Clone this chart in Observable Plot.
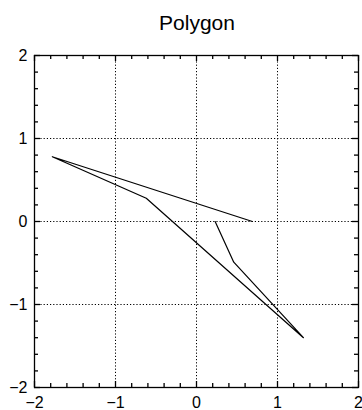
<!DOCTYPE html>
<html>
<head>
<meta charset="utf-8">
<script src="https://cdn.jsdelivr.net/npm/d3@7"></script>
<script src="https://cdn.jsdelivr.net/npm/@observablehq/plot@0.6"></script>
<style>
  html, body { margin: 0; padding: 0; background: #fff; overflow: hidden; }
  #title { height: 40px; width: 394px; text-align: center; font: 21px "Liberation Sans", Arial, sans-serif; line-height: 46px; color: #000; }
</style>
</head>
<body>
<div id="title">Polygon</div>
<div id="chart"></div>
<script>
const px = [0.69, -1.78, -0.62, 1.32, 0.46, 0.23];
const py = [0.0, 0.78, 0.28, -1.40, -0.49, 0.0];
const majorTicks = [-2, -1, 0, 1, 2];
const gridTicks = [-1, 0, 1];
const minorTicks = [-1.8, -1.6, -1.4, -1.2, -0.8, -0.6, -0.4, -0.2, 0.2, 0.4, 0.6, 0.8, 1.2, 1.4, 1.6, 1.8];

const pts = px.map((x, i) => ({x, y: py[i]}));

const W = 362, H = 370, mt = 15, mb = 23, ml = 34, mr = 4;
const plotH = H - mt - mb, plotW = W - ml - mr;
const majorLen = 6, minorLen = 4;
const fmt = d => d3.format("d")(d).replace("-", "\u2212");

const tickStyle = {stroke: "black", strokeWidth: 1.3};
const tickMarks = (vals, len) => [
  Plot.tickX(vals, {x: d => d, insetTop: plotH - len, ...tickStyle}),
  Plot.tickX(vals, {x: d => d, insetBottom: plotH - len, ...tickStyle}),
  Plot.tickY(vals, {y: d => d, insetRight: plotW - len, ...tickStyle}),
  Plot.tickY(vals, {y: d => d, insetLeft: plotW - len, ...tickStyle})
];

const chart = Plot.plot({
  width: W,
  height: H,
  marginTop: mt,
  marginBottom: mb,
  marginLeft: ml,
  marginRight: mr,
  style: {fontFamily: "Liberation Sans, Arial, sans-serif", fontSize: "16px", color: "black", background: "white"},
  x: {domain: [-2, 2]},
  y: {domain: [-2, 2]},
  marks: [
    Plot.gridX(gridTicks, {stroke: "black", strokeOpacity: 1, strokeDasharray: "1.2,2"}),
    Plot.gridY(gridTicks, {stroke: "black", strokeOpacity: 1, strokeDasharray: "1.2,2"}),
    Plot.axisX(majorTicks, {anchor: "bottom", tickSize: 0, tickPadding: 9, fill: "black", label: null, tickFormat: fmt}),
    Plot.axisY(majorTicks, {anchor: "left", tickSize: 0, tickPadding: 7, fill: "black", label: null, tickFormat: fmt}),
    ...tickMarks(majorTicks, majorLen),
    ...tickMarks(minorTicks, minorLen),
    Plot.line(pts, {x: "x", y: "y", stroke: "black", strokeWidth: 1.2}),
    Plot.frame({stroke: "black", strokeWidth: 1.3})
  ]
});
document.getElementById("chart").appendChild(chart);
</script>
</body>
</html>
